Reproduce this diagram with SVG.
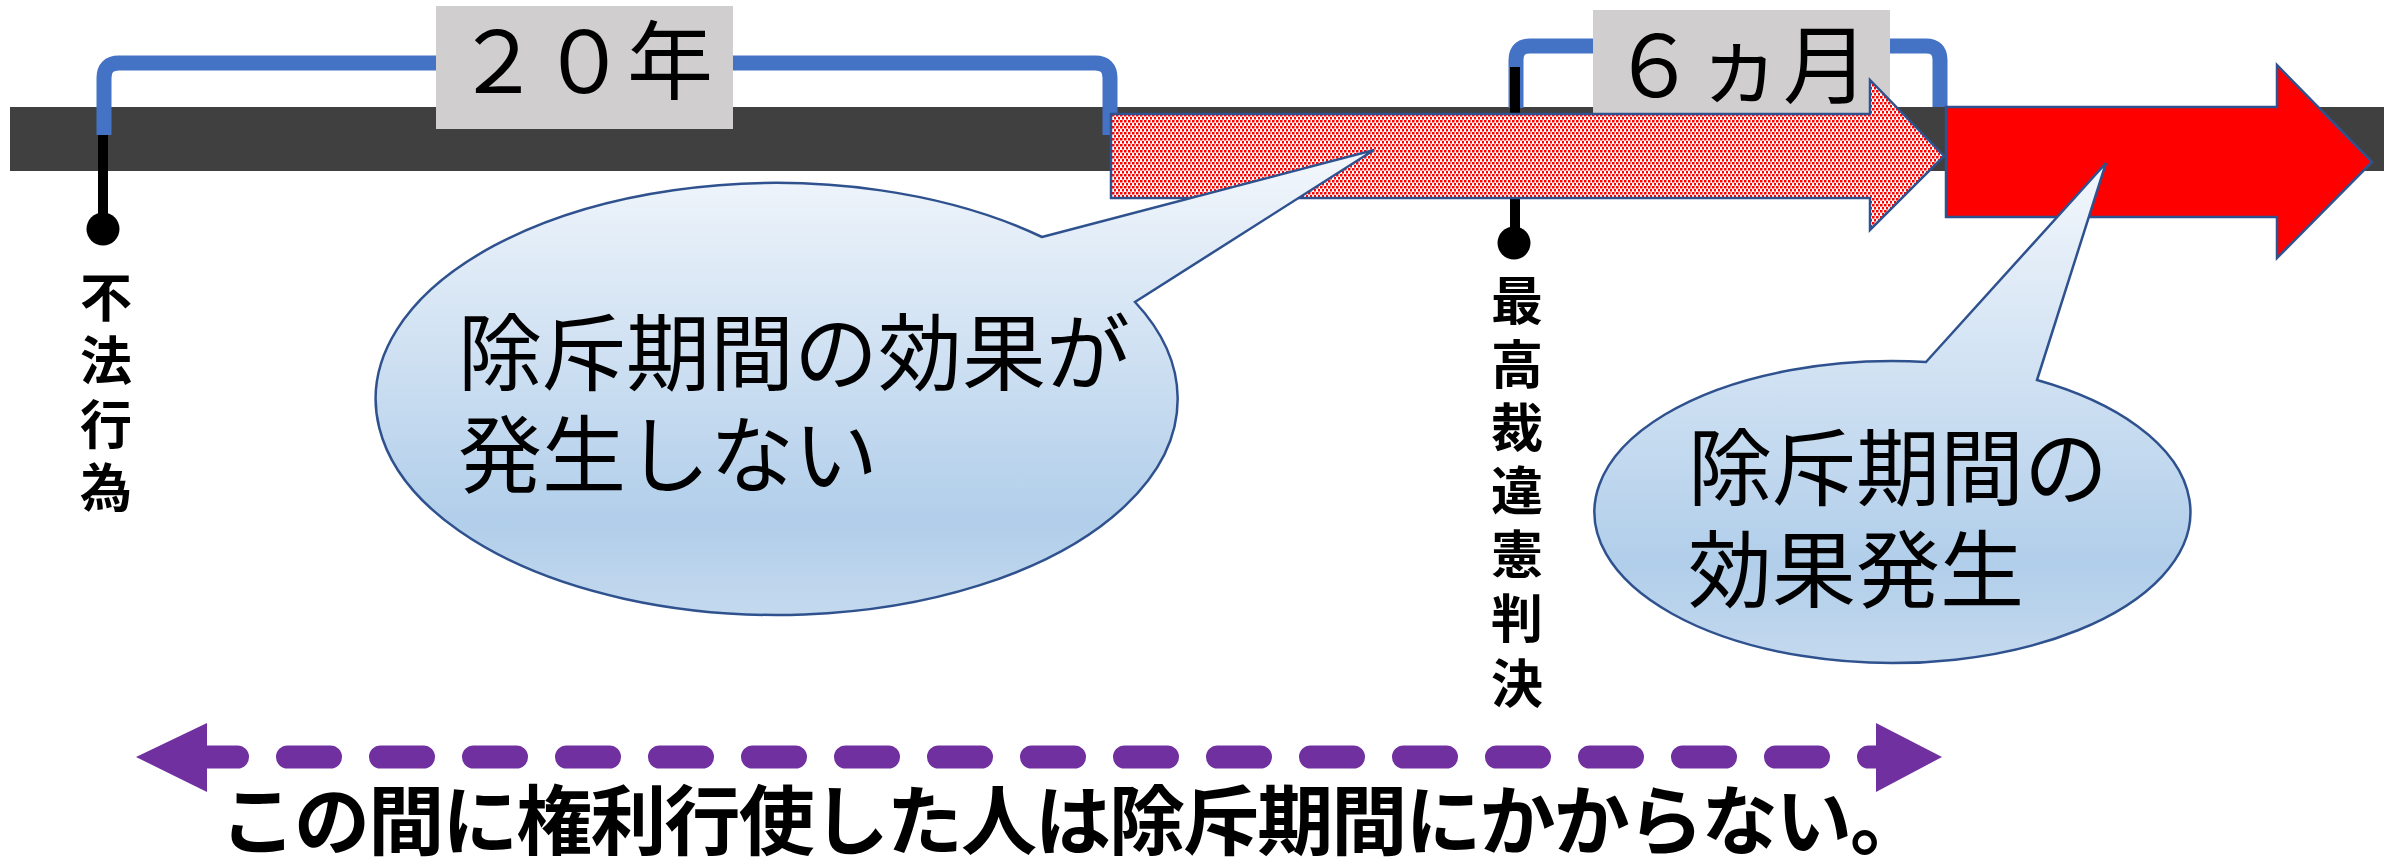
<svg xmlns="http://www.w3.org/2000/svg" width="2384" height="857" viewBox="0 0 2384 857">
<style>
.bracket{fill:none;stroke:#4472C4;stroke-width:15;stroke-linejoin:round}
.box{fill:#D0CECE}
.pin{stroke:#000;stroke-width:10}
.lbl{font-family:"Noto Sans CJK JP","Noto Sans CJK SC",sans-serif;fill:#000}
.vt{font-size:52px;font-weight:bold;text-anchor:middle}
.dur{font-size:86px;font-weight:normal;text-anchor:middle}
.co{font-size:84px;font-weight:normal}
.callout{fill:url(#cg);stroke:#2F528F;stroke-width:2.5}
.arrow{stroke:#2F528F;stroke-width:2.5}
</style>
<defs>
<pattern id="dots" width="4" height="6" patternUnits="userSpaceOnUse">
<rect width="4" height="6" fill="#fff"/>
<rect x="0" y="0" width="2.5" height="2.5" fill="#FF0000"/>
<rect x="2" y="3" width="2.5" height="2.5" fill="#FF0000"/>
</pattern>
<linearGradient id="cg" x1="0" y1="0" x2="0" y2="1">
<stop offset="0" stop-color="#F3F7FC"/>
<stop offset="0.8" stop-color="#B1CEEA"/>
<stop offset="1" stop-color="#C4D9EE"/>
</linearGradient>
</defs>
<rect id="timeline" x="10" y="107" width="2374" height="64" fill="#404040"/>
<g id="connectors">
<path class="bracket" d="M104 135 L104 78 Q104 63 119 63 L1095 63 Q1110 63 1110 78 L1110 135"/>
<path class="bracket" d="M1516 108 L1516 60 Q1516 46 1530 46 L1926 46 Q1940 46 1940 60 L1940 107"/>
<line class="pin" x1="103" y1="135" x2="103" y2="229"/>
<line class="pin" x1="1515" y1="67" x2="1515" y2="243"/>
<g fill="#7030A0">
<path d="M136 757 L207 723 L207 792 Z"/>
<path d="M1942 757 L1876 723 L1876 792 Z"/>
</g>
<path d="M207 757 L1876 757" fill="none" stroke="#7030A0" stroke-width="23" stroke-linecap="round" stroke-dasharray="43 50" stroke-dashoffset="12.5"/>
</g>
<g id="box20">
<rect class="box" x="436" y="6" width="297" height="123"/>
<text class="lbl dur" x="584" y="93">２０年</text>
</g>
<g id="box6">
<rect class="box" x="1593" y="10" width="297" height="103"/>
<text class="lbl dur" x="1740" y="97" font-size="82">６ヵ月</text>
</g>
<g id="pin-tort">
<circle cx="103" cy="229" r="16.5"/>
<text class="lbl vt"><tspan x="106" y="317">不</tspan><tspan x="106" y="380">法</tspan><tspan x="106" y="444">行</tspan><tspan x="106" y="507">為</tspan></text>
</g>
<g id="pin-court">
<circle cx="1514" cy="243" r="16.5"/>
<text class="lbl vt"><tspan x="1517" y="320">最</tspan><tspan x="1517" y="384">高</tspan><tspan x="1517" y="447">裁</tspan><tspan x="1517" y="510">違</tspan><tspan x="1517" y="574">憲</tspan><tspan x="1517" y="638">判</tspan><tspan x="1517" y="703">決</tspan></text>
</g>
<g id="arrow-hatched">
<path class="arrow" fill="url(#dots)" d="M1111 114 L1870 114 L1870 80 L1944 156 L1870 230 L1870 198 L1111 198 Z"/>
</g>
<g id="arrow-red">
<path class="arrow" fill="#FF0000" d="M1946 107 L2277 107 L2277 65 L2372 162 L2277 258 L2277 217 L1946 217 Z"/>
</g>
<g id="callout-no-effect">
<path class="callout" d="M1042 237 L1374 150 L1135 302 A401 216 0 1 1 1042 237 Z"/>
<text class="lbl co" x="458" y="384">除斥期間の効果が</text>
<text class="lbl co" x="458" y="486">発生しない</text>
</g>
<g id="callout-effect">
<path class="callout" d="M1926 362 L2106 163 L2037 380 A298 151 0 1 1 1926 362 Z"/>
<text class="lbl co" x="1688" y="499" font-size="82">除斥期間の</text>
<text class="lbl co" x="1688" y="601" font-size="82">効果発生</text>
</g>
<g id="caption">
<text class="lbl" x="220" y="849" font-size="76" font-weight="bold" textLength="1706" lengthAdjust="spacing">この間に権利行使した人は除斥期間にかからない。</text>
</g>
</svg>
